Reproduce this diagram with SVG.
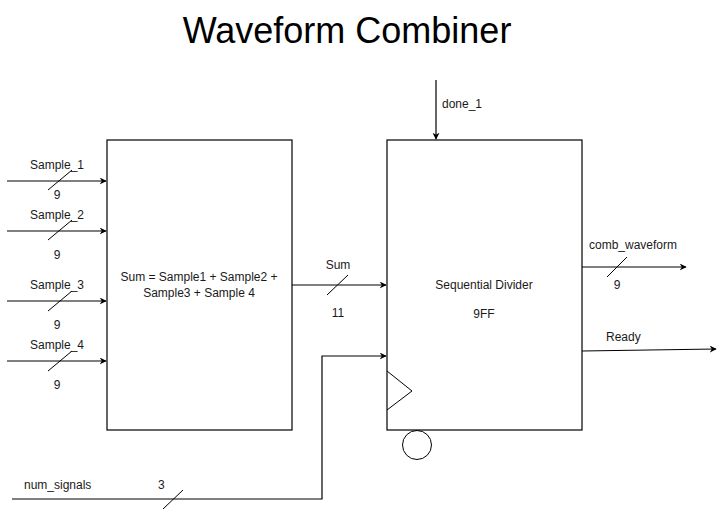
<svg xmlns="http://www.w3.org/2000/svg" width="727" height="512" viewBox="0 0 727 512">
<defs>
<marker id="ah" viewBox="0 0 10 10" refX="9" refY="5" markerWidth="7" markerHeight="7" orient="auto" markerUnits="userSpaceOnUse">
<path d="M0,0 L10,5 L0,10 L3,5 Z" fill="#000"/>
</marker>
</defs>
<style>
text{font-family:"Liberation Sans",Arial,sans-serif;font-size:12px;fill:#1a1a1a}
.box{fill:#fff;stroke:#000;stroke-width:1.2}
.w{stroke:#000;stroke-width:1.2;fill:none}
.s{stroke:#000;stroke-width:1;fill:none}
.t{font-size:36px;text-anchor:middle;fill:#000}
.c{text-anchor:middle}
</style>
<rect width="727" height="512" fill="#fff"/>
<text class="t" x="347" y="43">Waveform Combiner</text>
<g id="adder">
<rect class="box" x="107" y="140" width="185" height="290"/>
<text class="c" x="199" y="281">Sum = Sample1 + Sample2 +</text>
<text class="c" x="199" y="297">Sample3 + Sample 4</text>
</g>
<g id="divider">
<rect class="box" x="387" y="140" width="195" height="290"/>
<text class="c" x="484" y="289">Sequential Divider</text>
<text class="c" x="484" y="318">9FF</text>
<path class="s" d="M387,371 L412,391 L387,410"/>
<circle class="s" cx="417" cy="445" r="14.5"/>
</g>
<g id="connectors">
<path class="w" d="M7,181 H106" marker-end="url(#ah)"/>
<path class="s" d="M48,190 L72,170"/>
<path class="w" d="M7,231 H106" marker-end="url(#ah)"/>
<path class="s" d="M48,240 L72,220"/>
<path class="w" d="M7,301 H106" marker-end="url(#ah)"/>
<path class="s" d="M48,311 L72,291"/>
<path class="w" d="M7,361 H106" marker-end="url(#ah)"/>
<path class="s" d="M48,371 L72,351"/>
<path class="w" d="M292,285 H386" marker-end="url(#ah)"/>
<path class="s" d="M327,295 L348,275"/>
<path class="w" d="M12,499 H322 V356 H386" marker-end="url(#ah)"/>
<path class="s" d="M163,509 L183,490"/>
<path class="w" d="M436,80 V139" marker-end="url(#ah)"/>
<path class="w" d="M582,267 H686" marker-end="url(#ah)"/>
<path class="s" d="M607,277 L627,257"/>
<path class="w" d="M582,351 L716,349" marker-end="url(#ah)"/>
</g>
<g id="labels">
<text x="30" y="169">Sample_1</text>
<text class="c" x="57" y="199">9</text>
<text x="30" y="219">Sample_2</text>
<text class="c" x="57" y="259">9</text>
<text x="30" y="289">Sample_3</text>
<text class="c" x="57" y="329">9</text>
<text x="30" y="349">Sample_4</text>
<text class="c" x="57" y="389">9</text>
<text class="c" x="338" y="269">Sum</text>
<text class="c" x="338" y="317">11</text>
<text x="24" y="489">num_signals</text>
<text x="158" y="489">3</text>
<text x="442" y="108">done_1</text>
<text x="589" y="249">comb_waveform</text>
<text class="c" x="617" y="289">9</text>
<text x="606" y="341">Ready</text>
</g>
</svg>
